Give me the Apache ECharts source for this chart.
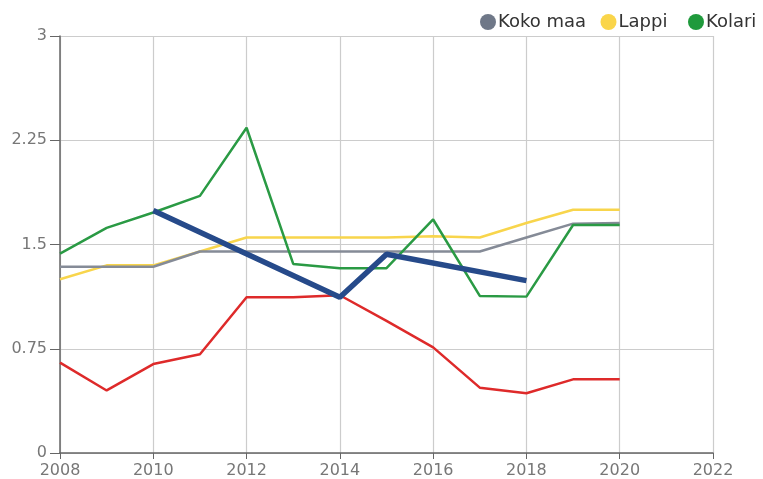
<!DOCTYPE html>
<html><head><meta charset="utf-8">
<script src="https://cdn.jsdelivr.net/npm/echarts@6/dist/echarts.min.js"></script>
<style>html,body{margin:0;padding:0;background:#fff}#c{width:763px;height:479px}</style>
</head><body><div id="c"></div>
<script>
const years = [2008,2009,2010,2011,2012,2013,2014,2015,2016,2017,2018,2019,2020];
const kokoMaa = [1.34,1.34,1.34,1.45,1.45,1.45,1.45,1.45,1.45,1.45,1.55,1.65,1.655];
const lappi   = [1.25,1.35,1.35,1.45,1.55,1.55,1.55,1.55,1.56,1.55,1.655,1.75,1.75];
const kolari  = [1.435,1.62,1.73,1.85,2.34,1.36,1.33,1.33,1.68,1.13,1.125,1.64,1.64];
const redVals = [0.65,0.45,0.64,0.71,1.12,1.12,1.135,0.95,0.76,0.47,0.43,0.53,0.53];
const blueYears = [2010,2014,2015,2018];
const blueVals  = [1.745,1.12,1.43,1.24];
const yTicks = [0,0.75,1.5,2.25,3];

const pairs = (xs, ys) => xs.map((x,i)=>[x, ys[i]]);
const font = 'DejaVu Sans';
const chart = echarts.init(document.getElementById('c'), null, {renderer:'canvas'});
function lg(name, left){
  return {data:[name], left:left, top:13, padding:0, itemWidth:16, itemHeight:16, icon:'circle', itemGap:0,
    textStyle:{fontFamily:font, fontSize:18, color:'#333', padding:[0,0,0,-3]}};
}
const lineS = (name, data, color, iconColor, width, z) => ({
  name, type:'line', data, symbol:'none', z, animation:false,
  lineStyle:{color, width}, itemStyle:{color:iconColor}
});
chart.setOption({
  animation:false,
  legend:[lg('Koko maa',480), lg('Lappi',600.5), lg('Kolari',688)],
  grid:{left:60, right:50, top:36, bottom:26, containLabel:false},
  xAxis:{type:'value', min:2008, max:2022, interval:2,
    axisLine:{lineStyle:{color:'#666', width:1.5}},
    axisTick:{show:true, length:6, lineStyle:{color:'#666'}},
    axisLabel:{fontFamily:font, fontSize:16, color:'#777', margin:10, formatter:v=>String(v)},
    splitLine:{show:true, lineStyle:{color:'#ccc', width:1.2}}},
  yAxis:{type:'value', min:0, max:3, interval:0.75,
    axisLine:{show:true, lineStyle:{color:'#666', width:1.5}},
    axisTick:{show:true, length:10, lineStyle:{color:'#666'}},
    axisLabel:{fontFamily:font, fontSize:16, color:'#777', margin:13,
      formatter:v=>{const t=yTicks.find(k=>Math.abs(k-v)<1e-9);return t===undefined?'':String(t);}},
    splitLine:{show:true, lineStyle:{color:'#ccc', width:1.2}}},
  series:[
    lineS('Lappi', pairs(years,lappi), '#f8d54c', '#fad54a', 2.5, 2),
    lineS('Koko maa', pairs(years,kokoMaa), '#858b97', '#6f7888', 2.5, 3),
    lineS('Kolari', pairs(years,kolari), '#2a9a44', '#1f9a3c', 2.5, 4),
    lineS('punainen', pairs(years,redVals), '#de2a2a', '#de2a2a', 2.5, 5),
    lineS('sininen', pairs(blueYears,blueVals), '#264a8a', '#264a8a', 5.5, 6)
  ]
});
</script></body></html>
